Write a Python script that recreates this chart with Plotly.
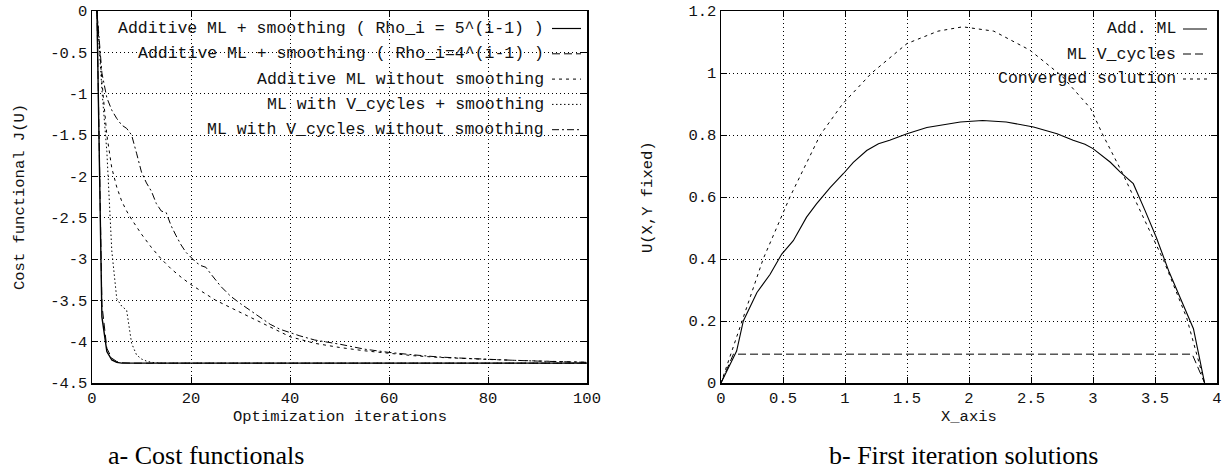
import plotly.graph_objects as go

# ---------------- data: left panel (cost functionals) ----------------
it_rho5 = [1, 2, 3, 4, 5, 6, 7, 10, 20, 40, 60, 80, 100]
j_rho5 = [0.0, -3.70, -4.12, -4.22, -4.25, -4.26, -4.26, -4.26, -4.26, -4.26, -4.26, -4.26, -4.26]

it_rho4 = [1, 2, 3, 4, 5, 6, 8, 20, 50, 100]
j_rho4 = [0.0, -3.55, -4.08, -4.20, -4.24, -4.255, -4.26, -4.26, -4.26, -4.26]

it_nosmooth = [1, 2, 3, 4, 5, 6, 7, 8, 10, 12, 14, 16, 18, 20, 25, 30, 35, 40, 45, 50,
               55, 60, 65, 70, 75, 80, 85, 90, 95, 100]
j_nosmooth = [0.0, -0.85, -1.5, -1.9, -2.13, -2.3, -2.42, -2.52, -2.7, -2.86, -3.0, -3.12,
              -3.22, -3.31, -3.5, -3.65, -3.8, -3.94, -4.02, -4.07, -4.11, -4.14, -4.17,
              -4.19, -4.205, -4.215, -4.225, -4.235, -4.245, -4.25]

it_vsmooth = [1, 2, 3, 4, 5, 6, 7, 8, 9, 10, 11, 12, 14, 16, 20, 50, 100]
j_vsmooth = [0.0, -0.95, -1.7, -2.9, -3.48, -3.57, -3.62, -4.02, -4.16, -4.21, -4.235,
             -4.25, -4.26, -4.26, -4.26, -4.26, -4.26]

it_vnosmooth = [1, 2, 3, 4, 5, 6, 7, 8, 9, 10, 11, 12, 13, 14, 15, 16, 17, 18, 19, 20,
                21, 22, 23, 24, 25, 26, 27, 28, 30, 32, 34, 36, 38, 40, 42, 45, 50, 55,
                60, 65, 70, 75, 80, 85, 90, 95, 100]
j_vnosmooth = [0.0, -0.75, -1.05, -1.2, -1.3, -1.38, -1.42, -1.5, -1.72, -1.95, -2.08,
               -2.18, -2.33, -2.42, -2.44, -2.6, -2.72, -2.83, -2.92, -2.98, -3.04, -3.08,
               -3.1, -3.18, -3.26, -3.33, -3.39, -3.45, -3.54, -3.62, -3.7, -3.79, -3.85,
               -3.89, -3.93, -3.98, -4.03, -4.09, -4.13, -4.16, -4.185, -4.2, -4.215,
               -4.225, -4.235, -4.24, -4.25]

left_names = [
    "Additive ML + smoothing ( Rho_i = 5^(i-1) )",
    "Additive ML + smoothing ( Rho_i=4^(i-1) )",
    "Additive ML without smoothing",
    "ML with V_cycles + smoothing",
    "ML with V_cycles without smoothing",
]
left_xticks = [0, 20, 40, 60, 80, 100]
left_xticktext = ["0", "20", "40", "60", "80", "100"]
left_yticks = [0, -0.5, -1, -1.5, -2, -2.5, -3, -3.5, -4, -4.5]
left_yticktext = ["0", "-0.5", "-1", "-1.5", "-2", "-2.5", "-3", "-3.5", "-4", "-4.5"]

# ---------------- data: right panel (first iteration solutions) ----------------
x_add = [0, 0.126, 0.18, 0.29, 0.395, 0.49, 0.583, 0.69, 0.77, 0.88, 0.986, 1.067, 1.175,
         1.27, 1.36, 1.5, 1.66, 1.93, 2.11, 2.3, 2.52, 2.71, 2.84, 2.935, 3.0, 3.14, 3.22,
         3.325, 3.42, 3.51, 3.615, 3.715, 3.81, 3.9]
u_add = [0, 0.103, 0.2, 0.292, 0.35, 0.416, 0.459, 0.535, 0.578, 0.63, 0.675, 0.712, 0.75,
         0.772, 0.783, 0.804, 0.824, 0.842, 0.847, 0.842, 0.826, 0.804, 0.783, 0.77, 0.756,
         0.712, 0.68, 0.643, 0.556, 0.47, 0.357, 0.265, 0.175, 0]

x_vcyc = [0, 0.1, 3.8, 3.9]
u_vcyc = [0, 0.093, 0.093, 0]

x_conv = [0, 0.17, 0.34, 0.556, 0.8, 0.98, 1.215, 1.5, 1.75, 1.95, 2.2, 2.49, 2.75, 2.98,
          3.08, 3.24, 3.4, 3.57, 3.755, 3.9]
u_conv = [0, 0.2, 0.4, 0.6, 0.8, 0.9, 1.0, 1.095, 1.135, 1.149, 1.135, 1.074, 0.99, 0.886,
          0.8, 0.675, 0.54, 0.395, 0.211, 0]

right_names = ["Add. ML", "ML V_cycles", "Converged solution"]
right_xticks = [0, 0.5, 1, 1.5, 2, 2.5, 3, 3.5, 4]
right_xticktext = ["0", "0.5", "1", "1.5", "2", "2.5", "3", "3.5", "4"]
right_yticks = [0, 0.2, 0.4, 0.6, 0.8, 1, 1.2]
right_yticktext = ["0", "0.2", "0.4", "0.6", "0.8", "1", "1.2"]

# ---------------- styling ----------------
W, H = 1222, 475
MONO = "Liberation Mono"
FS = 16.5
TFS = 15.5
SOLID = "solid"
LDASH = "8px,4px"
SDASH = "3px,4px"
DOT = "1.5px,2.5px"
DASHDOT = "7px,3px,2px,3px"
GRIDDASH = "1px,3px"
TXT = "#111111"


def px(x):
    return x / W


def py(y):
    return 1 - y / H


fig = go.Figure()

left_series = [
    (it_rho5, j_rho5, SOLID, 1.4),
    (it_rho4, j_rho4, LDASH, 1.0),
    (it_nosmooth, j_nosmooth, SDASH, 1.0),
    (it_vsmooth, j_vsmooth, DOT, 1.0),
    (it_vnosmooth, j_vnosmooth, DASHDOT, 1.0),
]
for (xs, ys, dash, w), name in zip(left_series, left_names):
    fig.add_trace(go.Scatter(x=xs, y=ys, mode="lines", name=name,
                             line=dict(color="black", width=w, dash=dash),
                             xaxis="x", yaxis="y", showlegend=False))

right_series = [
    (x_add, u_add, SOLID, 1.1),
    (x_vcyc, u_vcyc, LDASH, 1.0),
    (x_conv, u_conv, SDASH, 1.0),
]
for (xs, ys, dash, w), name in zip(right_series, right_names):
    fig.add_trace(go.Scatter(x=xs, y=ys, mode="lines", name=name,
                             line=dict(color="black", width=w, dash=dash),
                             xaxis="x2", yaxis="y2", showlegend=False))

axis_common = dict(
    showline=True, linecolor="black", linewidth=1.5, mirror="ticks",
    ticks="inside", ticklen=6, tickwidth=1, tickcolor="black",
    showgrid=True, gridcolor="black", gridwidth=1, griddash=GRIDDASH,
    zeroline=False, tickfont=dict(family=MONO, size=TFS, color=TXT),
    tickmode="array", fixedrange=True, automargin=False,
)

ydom = [py(383), py(11)]
fig.update_layout(
    width=W, height=H,
    margin=dict(l=0, r=0, t=0, b=0, autoexpand=False),
    paper_bgcolor="white", plot_bgcolor="white",
    xaxis=dict(domain=[px(92), px(587)], range=[0, 100], anchor="y",
               tickvals=left_xticks, ticktext=left_xticktext, **axis_common),
    yaxis=dict(domain=ydom, range=[-4.5, 0], anchor="x",
               tickvals=left_yticks, ticktext=left_yticktext, **axis_common),
    xaxis2=dict(domain=[px(721), px(1217)], range=[0, 4], anchor="y2",
                tickvals=right_xticks, ticktext=right_xticktext, **axis_common),
    yaxis2=dict(domain=ydom, range=[0, 1.2], anchor="x2",
                tickvals=right_yticks, ticktext=right_yticktext, **axis_common),
)

annotations = []
shapes = []

# left legend (text right-aligned, sample on the right, gnuplot style)
left_dashes = [SOLID, LDASH, SDASH, DOT, DASHDOT]
for i, (name, dash) in enumerate(zip(left_names, left_dashes)):
    yy = 28.5 + 25.3 * i
    annotations.append(dict(x=px(546), y=py(yy), xref="paper", yref="paper",
                            text=name, showarrow=False, xanchor="right", yanchor="middle",
                            font=dict(family=MONO, size=FS, color=TXT)))
    shapes.append(dict(type="line", xref="paper", yref="paper",
                       x0=px(552), x1=px(581), y0=py(yy), y1=py(yy),
                       line=dict(color="black", width=1.2 if dash == SOLID else 1, dash=dash)))

# right legend
right_dashes = [SOLID, LDASH, SDASH]
for i, (name, dash) in enumerate(zip(right_names, right_dashes)):
    yy = 29 + 25.0 * i
    annotations.append(dict(x=px(1178), y=py(yy), xref="paper", yref="paper",
                            text=name, showarrow=False, xanchor="right", yanchor="middle",
                            font=dict(family=MONO, size=FS, color=TXT)))
    shapes.append(dict(type="line", xref="paper", yref="paper",
                       x0=px(1183), x1=px(1207), y0=py(yy), y1=py(yy),
                       line=dict(color="black", width=1, dash=dash)))

# axis titles
annotations += [
    dict(x=px(340), y=py(417), xref="paper", yref="paper", text="Optimization iterations",
         showarrow=False, xanchor="center", yanchor="middle",
         font=dict(family=MONO, size=TFS, color=TXT)),
    dict(x=px(20), y=py(197), xref="paper", yref="paper", text="Cost functional J(U)",
         showarrow=False, textangle=-90, xanchor="center", yanchor="middle",
         font=dict(family=MONO, size=TFS, color=TXT)),
    dict(x=px(969), y=py(417), xref="paper", yref="paper", text="X_axis",
         showarrow=False, xanchor="center", yanchor="middle",
         font=dict(family=MONO, size=TFS, color=TXT)),
    dict(x=px(648), y=py(197), xref="paper", yref="paper", text="U(X,Y fixed)",
         showarrow=False, textangle=-90, xanchor="center", yanchor="middle",
         font=dict(family=MONO, size=TFS, color=TXT)),
    # captions
    dict(x=px(206), y=py(455), xref="paper", yref="paper", text="a- Cost functionals",
         showarrow=False, xanchor="center", yanchor="middle",
         font=dict(family="Liberation Serif", size=26, color="black")),
    dict(x=px(963), y=py(455), xref="paper", yref="paper", text="b- First iteration solutions",
         showarrow=False, xanchor="center", yanchor="middle",
         font=dict(family="Liberation Serif", size=26, color="black")),
]

fig.update_layout(annotations=annotations, shapes=shapes)
fig.write_html(
    "out.html",
    config={"displayModeBar": False, "staticPlot": True},
    post_script="document.body.style.margin='0';document.body.style.overflow='hidden';",
)
